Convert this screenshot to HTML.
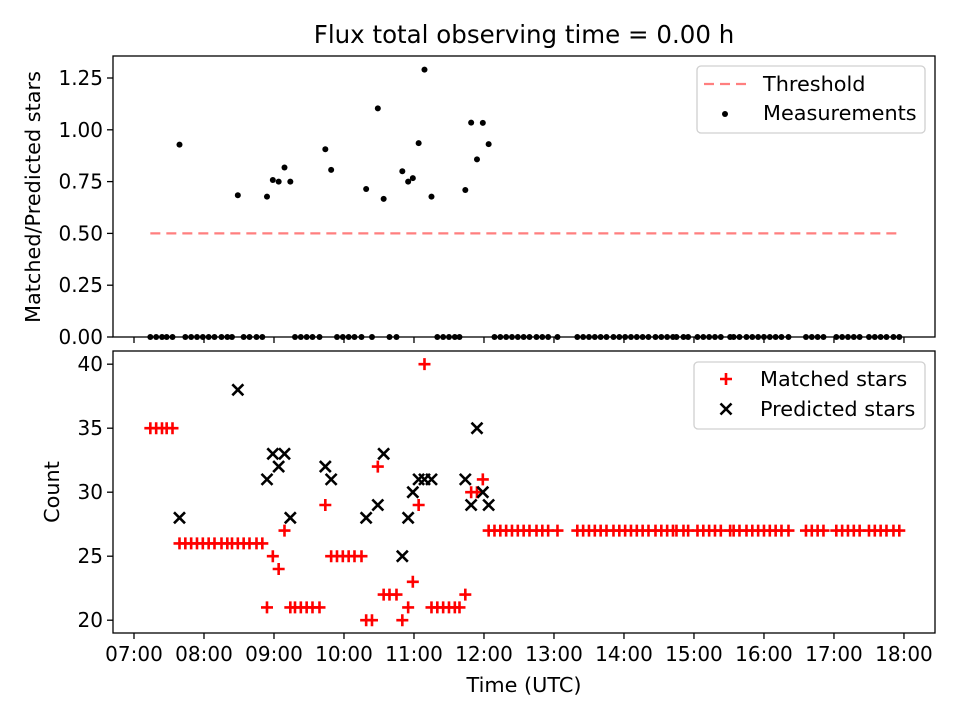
<!DOCTYPE html>
<html><head><meta charset="utf-8"><style>
html,body{margin:0;padding:0;background:#fff;}
svg{display:block;font-family:"DejaVu Sans","Liberation Sans",sans-serif;}
</style></head><body>
<svg id="chart" width="960" height="720" viewBox="0 0 960 720" xmlns="http://www.w3.org/2000/svg">
<rect width="960" height="720" fill="#fff"/>
<text x="524" y="43" font-size="24.5" text-anchor="middle" fill="#000">Flux total observing time = 0.00 h</text>
<g id="topPanel"></g><g id="botPanel"></g>
<text x="524" y="692" font-size="20.8" text-anchor="middle">Time (UTC)</text>
<text transform="translate(40,197) rotate(-90)" font-size="20.8" text-anchor="middle">Matched/Predicted stars</text>
<text transform="translate(59,492) rotate(-90)" font-size="20.8" text-anchor="middle">Count</text>
<g>
<rect x="697" y="66" width="228" height="67" rx="4" fill="#fff" fill-opacity="0.8" stroke="#d0d0d0" stroke-width="1.3"/>
<line x1="704" y1="84" x2="746" y2="84" stroke="#ff7f7f" stroke-width="2.2" stroke-dasharray="10,6"/>
<text x="763" y="91" font-size="20.8">Threshold</text>
<circle cx="725" cy="114" r="3" fill="#000"/>
<text x="763" y="120" font-size="20.8">Measurements</text>
</g>
<g>
<rect x="694" y="362" width="231" height="67" rx="4" fill="#fff" fill-opacity="0.8" stroke="#d0d0d0" stroke-width="1.3"/>
<path d="M720,379 h12 M726,373 v12" stroke="#f00" stroke-width="2.6"/>
<text x="760" y="386" font-size="20.8">Matched stars</text>
<path d="M720.5,403.5 l11,11 M731.5,403.5 l-11,11" stroke="#000" stroke-width="2.6"/>
<text x="760" y="416" font-size="20.8">Predicted stars</text>
</g>
</svg>
<script>
// minutes after 07:00 UTC
const times = [14,19,24,28,33,39,44,49,54,59,64,69,75,80,84,89,94,99,105,110,
114,119,124,129,134,138,143,148,153,159,164,169,174,179,184,189,195,199,204,209,214,219,225,230,235,239,244,249,255,260,265,270,275,279,284,289,294,299,304,
309,314,319,324,329,334,339,345,350,355,363,
380,385,390,395,400,405,411,416,421,426,431,436,441,447,452,457,462,465,471,475,
483,488,493,498,503,
511,514,519,525,530,535,540,545,550,555,561,
576,581,586,591,602,607,612,617,622,630,635,640,645,651,656];
const matched = [35,35,35,35,35,26,26,26,26,26,26,26,26,26,26,26,26,26,26,26,
21,25,24,27,21,21,21,21,21,21,29,25,25,25,25,25,25,20,20,32,22,22,22,20,21,23,29,40,21,21,21,21,21,21,22,30,30,31,27,
27,27,27,27,27,27,27,27,27,27,27,
27,27,27,27,27,27,27,27,27,27,27,27,27,27,27,27,27,27,27,27,
27,27,27,27,27,
27,27,27,27,27,27,27,27,27,27,27,
27,27,27,27,27,27,27,27,27,27,27,27,27,27,27];
const predicted = [null,null,null,null,null,28,null,null,null,null,null,null,null,null,null,38,null,null,null,null,
31,33,32,33,28,null,null,null,null,null,32,31,null,null,null,null,null,28,null,29,33,null,null,25,28,30,31,31,31,null,null,null,null,null,31,29,35,30,29];
const threshold = 0.5;
const topTicks = [0,0.25,0.5,0.75,1.0,1.25];
const botTicks = [20,25,30,35,40];
const xTickLabels = ["07:00","08:00","09:00","10:00","11:00","12:00","13:00","14:00","15:00","16:00","17:00","18:00"];

const NS="http://www.w3.org/2000/svg";
const L=113,R=935;
const xmin=-18,xmax=686.6;
function X(m){return L+(m-xmin)/(xmax-xmin)*(R-L);}
const T0=56,T1=337, tmax=1.3562;
function YT(v){return T1-v/tmax*(T1-T0);}
const B0=351,B1=633, bmin=19.0, bmax=41.03;
function YB(v){return B1-(v-bmin)/(bmax-bmin)*(B1-B0);}
function mk(tag,attrs,parent){const e=document.createElementNS(NS,tag);for(const k in attrs)e.setAttribute(k,attrs[k]);parent.appendChild(e);return e;}
const topG=document.getElementById('topPanel'), botG=document.getElementById('botPanel');

let f=mk('rect',{x:L,y:T0,width:R-L,height:T1-T0,fill:'none',stroke:'#000','stroke-width':1.3},topG);


f=mk('rect',{x:L,y:B0,width:R-L,height:B1-B0,fill:'none',stroke:'#000','stroke-width':1.3},botG);



xTickLabels.forEach((lab,i)=>{
  const x=X(i*60);
  let t=mk('line',{x1:x,x2:x,y1:T1,y2:T1+6,stroke:'#000','stroke-width':1.3},topG);
  
  
  t=mk('line',{x1:x,x2:x,y1:B1,y2:B1+6,stroke:'#000','stroke-width':1.3},botG);
  
  
  const tx=mk('text',{x:x,y:B1+28,'font-size':20,'text-anchor':'middle'},botG);
  tx.textContent=lab;
  
  
});
topTicks.forEach(v=>{
  const y=YT(v);
  const t=mk('line',{x1:L-6,x2:L,y1:y,y2:y,stroke:'#000','stroke-width':1.3},topG);
  
  
  const tx=mk('text',{x:L-10,y:y+7,'font-size':20,'text-anchor':'end'},topG);
  tx.textContent=v.toFixed(2);
  
  
});
botTicks.forEach(v=>{
  const y=YB(v);
  const t=mk('line',{x1:L-6,x2:L,y1:y,y2:y,stroke:'#000','stroke-width':1.3},botG);
  
  
  const tx=mk('text',{x:L-10,y:y+7,'font-size':20,'text-anchor':'end'},botG);
  tx.textContent=v;
  
  
});

const th=mk('line',{x1:X(times[0]),x2:X(times[times.length-1]),y1:YT(threshold),y2:YT(threshold),stroke:'#ff7f7f','stroke-width':2.2,'stroke-dasharray':'10,6'},topG);



times.forEach((m,i)=>{
  const p=predicted[i];
  const r=(p==null||p===undefined)?0:matched[i]/p;
  const c=mk('circle',{cx:X(m),cy:YT(r),r:3,fill:'#000'},topG);
  
  
});
times.forEach((m,i)=>{
  const x=X(m),y=YB(matched[i]);
  const p=mk('path',{d:`M${x-6},${y}h12M${x},${y-6}v12`,stroke:'#f00','stroke-width':2.6,fill:'none'},botG);
  
  
});
times.forEach((m,i)=>{
  const v=predicted[i];
  if(v==null) return;
  const x=X(m),y=YB(v);
  const p=mk('path',{d:`M${x-5.5},${y-5.5}l11,11M${x+5.5},${y-5.5}l-11,11`,stroke:'#000','stroke-width':2.6,fill:'none'},botG);
  
  
});
</script>
</body></html>
